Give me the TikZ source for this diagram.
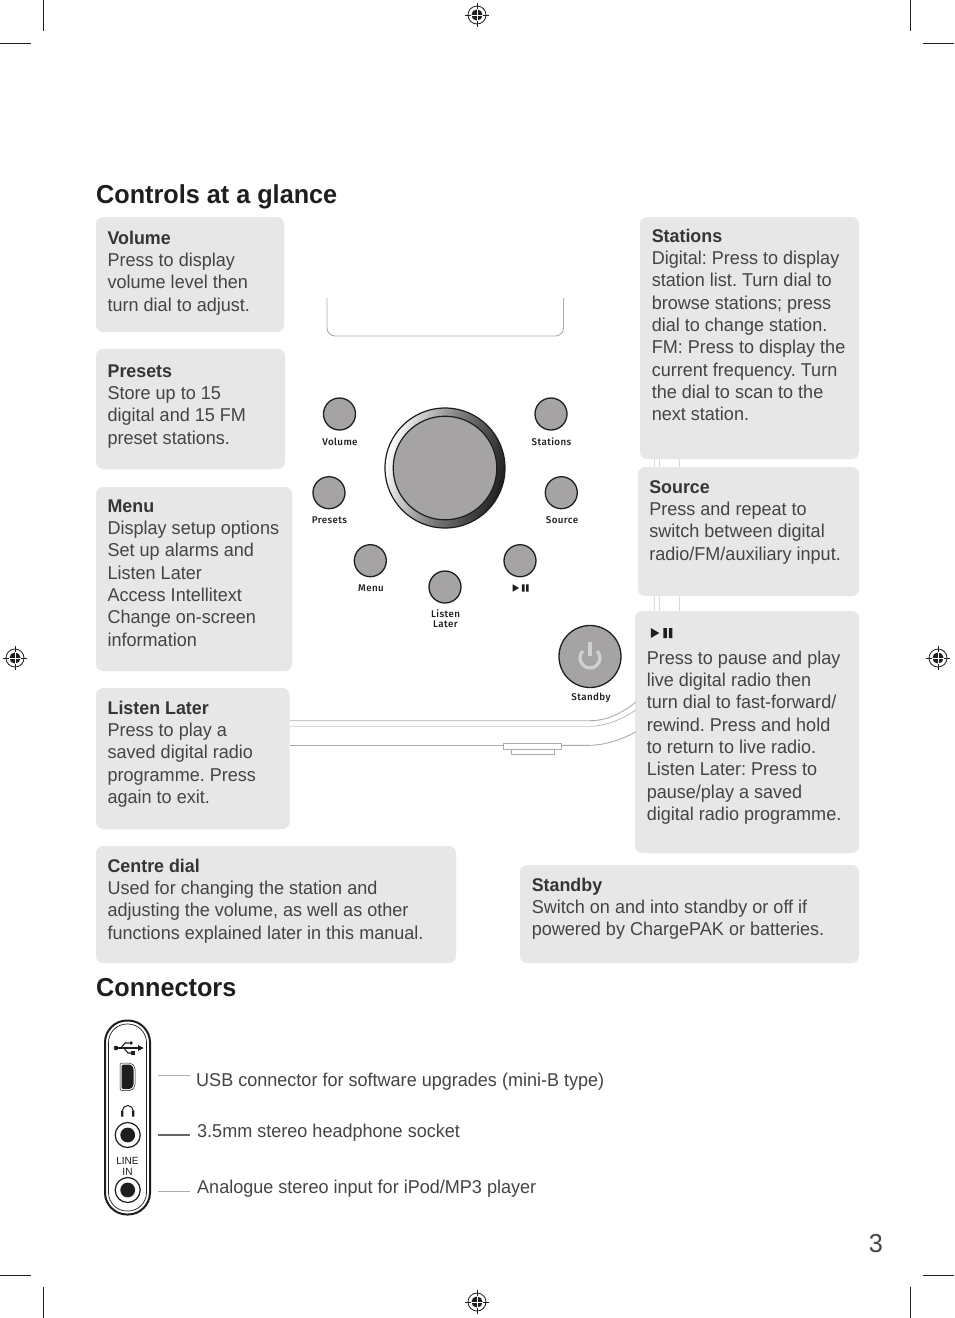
\documentclass[tikz,border=0pt]{standalone}
\usepackage{fontspec}
\setmainfont{Liberation Sans}[FakeStretch=0.97]
\newfontfamily\capfont{Fira Sans Medium}
\frenchspacing
\definecolor{panel}{HTML}{E7E7E7}
\definecolor{body}{HTML}{444444}
\definecolor{knob}{HTML}{A5A3A4}
\definecolor{rule}{HTML}{ABABAB}
\definecolor{ink}{HTML}{1E1E1E}
\tikzset{
  x=1pt,y=-1pt,
  panelbox/.style={fill=panel,rounded corners=7pt,draw=none},
  copytext/.style={anchor=north west,inner sep=0pt,outer sep=0pt,align=left,text=body,font=\fontsize{18.6}{22.35}\selectfont},
  headtext/.style={anchor=base west,inner sep=0pt,text=ink,font=\fontsize{26}{30}\selectfont\bfseries},
  plainline/.style={anchor=base west,inner sep=0pt,text=body,font=\fontsize{18.6}{22}\selectfont},
  btn/.style={circle,draw=ink,line width=1.3pt,fill=knob,minimum size=32pt,inner sep=0pt},
  capt/.style={inner sep=0pt,text=ink,align=center,font=\fontsize{9.8}{9.6}\selectfont\capfont\addfontfeatures{LetterSpace=4}},
  casing/.style={draw=rule,line width=0.9pt},
  faint/.style={draw=panel!80!rule,line width=1.4pt},
  cropline/.style={draw=ink,line width=0.7pt},
  leader/.style={draw=rule,line width=0.8pt},
}
\newcommand{\fl}{\rule{0pt}{14pt}}
\newcommand{\rt}[1]{\fl{\color{ink!90}\bfseries\fontsize{18.4}{22.35}\selectfont #1}\\}
\newcommand{\regmark}[2]{%
  \begin{scope}[shift={(#1,#2)}]
    \draw[line width=0.8pt,ink] (0,0) circle (9);
    \fill[ink] (0,0) circle (5.6);
    \draw[line width=0.8pt,ink] (-12,0) -- (12,0) (0,-12) -- (0,12);
    \draw[line width=0.8pt,white] (-5.6,0) -- (5.6,0) (0,-5.6) -- (0,5.6);
  \end{scope}}
\newcommand{\playicon}[3]{%
  \begin{scope}[shift={(#1,#2)},scale=#3]
    \fill[ink] (0,-5) -- (8.5,0) -- (0,5) -- cycle;
    \fill[ink] (12.5,-5) rectangle (16,5) (18,-5) rectangle (21.5,5);
  \end{scope}}
\begin{document}
\begin{tikzpicture}
\useasboundingbox (0,0) rectangle (954,1318);
\fill[white] (0,0) rectangle (954,1318);

% crop marks
\draw[cropline] (43,0) -- (43,31) (910,0) -- (910,31) (0,43) -- (31,43) (923,43) -- (954,43);
\draw[cropline] (43,1287) -- (43,1318) (910,1287) -- (910,1318) (0,1275) -- (31,1275) (923,1275) -- (954,1275);
\regmark{477}{15}\regmark{477}{1302}\regmark{15}{658}\regmark{938}{658}

\node[headtext] (title1) at (96,203) {Controls at a glance};
\node[headtext] (title2) at (96,996) {Connectors};

% panel connecting traces behind boxes
\draw[faint,line width=1pt] (654.5,455) -- (654.5,615) (659.5,455) -- (659.5,615);
\draw[faint,line width=1.6pt] (679.5,455) -- (679.5,615);

% panels
\fill[panelbox] (96,217) rectangle (284,332);
\fill[panelbox] (96,349) rectangle (285,469);
\fill[panelbox] (96,487) rectangle (292,671);
\fill[panelbox] (96,688) rectangle (289.5,829);
\fill[panelbox] (96,846) rectangle (456,963);
\fill[panelbox] (640,217) rectangle (859,459);
\fill[panelbox] (638,467) rectangle (859,596);
\fill[panelbox] (635,611) rectangle (859,853);
\fill[panelbox] (520,865) rectangle (859,963);

% panel text
\node[copytext] (tvol) at (107.6,230) {\rt{Volume}Press to display\\volume level then\\turn dial to adjust.};
\node[copytext] (tpre) at (107.6,363) {\rt{Presets}Store up to 15\\digital and 15 FM\\preset stations.};
\node[copytext] (tmen) at (107.6,498) {\rt{Menu}Display setup options\\Set up alarms and\\Listen Later\\Access Intellitext\\Change on-screen\\information};
\node[copytext] (tlis) at (107.6,700) {\rt{Listen Later}Press to play a\\saved digital radio\\programme. Press\\again to exit.};
\node[copytext] (tcen) at (107.6,858) {\rt{Centre dial}Used for changing the station and\\adjusting the volume, as well as other\\functions explained later in this manual.};
\node[copytext] (tsta) at (651.8,228) {\rt{Stations}Digital: Press to display\\station list. Turn dial to\\browse stations; press\\dial to change station.\\FM: Press to display the\\current frequency. Turn\\the dial to scan to the\\next station.};
\node[copytext] (tsou) at (649.3,479) {\rt{Source}Press and repeat to\\switch between digital\\radio/FM/auxiliary input.};
\node[copytext] (tpla) at (646.8,650) {\fl Press to pause and play\\live digital radio then\\turn dial to fast-forward/\\rewind. Press and hold\\to return to live radio.\\Listen Later: Press to\\pause/play a saved\\digital radio programme.};
\node[copytext] (tstb) at (531.8,877) {\rt{Standby}Switch on and into standby or off if\\powered by ChargePAK or batteries.};
\playicon{650.8}{633}{1}

% radio outline
\draw[casing,rounded corners=8pt] (327,298) -- (327,336) -- (563.5,336) -- (563.5,298);
\draw[casing] (289.5,720.7) -- (590,720.7) .. controls (607,720.7) and (622,713) .. (636,702);
\draw[faint,line width=1.2pt] (289.5,726.2) -- (590,726.2);
\draw[casing,line width=0.6pt] (590,726.2) .. controls (607,726) and (622,719) .. (636,710);
\draw[casing] (289.5,745.3) -- (503.5,745.3);
\draw[casing] (562,745.3) -- (590,745.3) .. controls (607,745) and (622,739) .. (636,732);
\draw[casing,line width=0.7pt] (503.5,743.4) rectangle (561.7,749.3);
\draw[casing,line width=0.7pt] (511.3,749.3) -- (511.3,754.3) -- (554,754.3) -- (554,749.3);

% dial
\shade[left color=white,right color=black!88,middle color=black!50,shading angle=75] (445,468) circle (60);
\draw[ink,line width=1.2pt] (445,468) circle (60);
\draw[ink,line width=1.2pt,fill=knob] (445,468) circle (51.8);

% buttons and their labels
\node[btn] (bvol) at (339.5,414) {};
\node[btn] (bsta) at (551,414) {};
\node[btn] (bpre) at (329,492.7) {};
\node[btn] (bsou) at (561.3,492.7) {};
\node[btn] (bmen) at (370.3,560.7) {};
\node[btn] (bpla) at (520,560.7) {};
\node[btn] (blis) at (445,587) {};
\node[btn,minimum size=62pt] (bstb) at (590,656.5) {};
\draw[draw=black!18,line width=3.2pt] (582.9,650.9) arc[start angle=-135,delta angle=-270,radius=10];
\draw[draw=black!18,line width=3.2pt] (590,642) -- (590,656);

\node[capt] (lvol) at (340,441.7) {Volume};
\node[capt] (lsta) at (551.5,441.7) {Stations};
\node[capt] (lpre) at (329.5,520.5) {Presets};
\node[capt] (lsou) at (562,520.5) {Source};
\node[capt] (lmen) at (371,588.5) {Menu};
\node[capt] (llis) at (445.5,618.5) {Listen\\Later};
\node[capt] (lstb) at (591,698) {Standby};
\playicon{512.7}{588}{0.74}

% connector panel
\draw[ink,line width=2pt,rounded corners=22pt] (105,1020.5) rectangle (150,1214.5);
\draw[ink,line width=0.7pt,rounded corners=18.5pt] (108.5,1024) rectangle (146.5,1211);
% usb
\draw[ink,line width=1.2pt] (116,1048) -- (140,1048);
\fill[ink] (116,1048) circle (2.3);
\fill[ink] (143.5,1048) -- (138,1045) -- (138,1051) -- cycle;
\draw[ink,line width=1.1pt] (121,1048) -- (125,1043) -- (129,1043) (124,1048) -- (128,1053) -- (132,1053);
\fill[ink] (131,1043) circle (1.8);
\fill[ink] (131,1051) rectangle (135,1055);
% mini-B socket
\draw[ink,line width=0.5pt,rounded corners=2pt] (120,1063) -- (131.5,1063) -- (135,1067) -- (135,1086.5) -- (131.5,1090.5) -- (120,1090.5) -- cycle;
\fill[ink,rounded corners=1.5pt] (121.5,1064.5) -- (130.8,1064.5) -- (133.5,1067.8) -- (133.5,1085.7) -- (130.8,1089) -- (121.5,1089) -- cycle;
% headphones
\draw[ink,line width=1pt] (122.3,1111) arc[start angle=180,end angle=360,radius=5.5];
\fill[ink] (121.2,1110.5) rectangle (123.4,1116.5) (132.2,1110.5) rectangle (134.4,1116.5);
% sockets
\node[circle,draw=ink,line width=1.2pt,fill=white,minimum size=25pt,inner sep=0pt] (jack1) at (127.7,1135) {};
\fill[ink] (jack1.center) circle (7.4);
\node[circle,draw=ink,line width=1.2pt,fill=white,minimum size=25pt,inner sep=0pt] (jack2) at (127.7,1190) {};
\fill[ink] (jack2.center) circle (7.4);
\node[inner sep=0pt,align=center,text=ink,font=\fontsize{10.4}{10.5}\selectfont] (linein) at (127.5,1166.5) {LINE\\IN};

% leaders and descriptions
\node[plainline] (cusb) at (196,1086) {USB connector for software upgrades (mini-B type)};
\node[plainline] (chp) at (197,1137) {3.5mm stereo headphone socket};
\node[plainline] (clin) at (197,1193) {Analogue stereo input for iPod/MP3 player};
\coordinate (a1) at (157.5,1075.5);\coordinate (a2) at (190,1075.5);
\coordinate (b1) at (157.5,1135);\coordinate (b2) at (190,1135);
\coordinate (c1) at (157.5,1191.5);\coordinate (c2) at (190,1191.5);
\draw[leader] (a1) -- (a2);
\draw[leader,line width=1.3pt,draw=black!60] (b1) -- (b2);
\draw[leader] (c1) -- (c2);

\node[inner sep=0pt,text=body,font=\fontsize{26}{28}\selectfont] (page) at (876,1243.5) {3};
\end{tikzpicture}
\end{document}
